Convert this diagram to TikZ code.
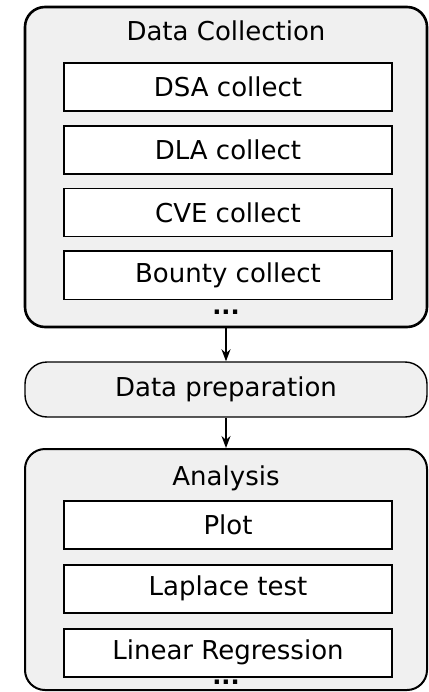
\documentclass[tikz,border=0pt]{standalone}
\usepackage{fontspec}
\setmainfont{DejaVu Sans}
\usetikzlibrary{arrows.meta, positioning}
\definecolor{panel}{RGB}{240, 240, 240}

\begin{document}
\begin{tikzpicture}[
      x=1pt, y=1pt,
      every node/.style={font=\fontsize{26}{30}\selectfont},
      group/.style={rectangle, draw=black, line width=2.6pt, fill=panel,
                    rounded corners=20pt, minimum width=402pt, inner sep=0pt},
      task/.style={rectangle, draw=black, line width=1.8pt, fill=white,
                   minimum width=328pt, minimum height=48pt, inner sep=0pt},
      more/.style={inner sep=0pt, font=\fontsize{24}{24}\selectfont\bfseries},
      arrow/.style={-{Stealth[length=12pt, width=9pt]}, line width=1.6pt}
    ]
    \useasboundingbox (0,0) rectangle (428,-692);

    % data collection
    \node[group, minimum height=320pt] (coll) at (226,-167) {};
    \node (colltitle) at (226,-31) {Data Collection};
    \node[task] (dsa) at (228,-87) {DSA collect};
    \node[task, below=13pt of dsa] (dla) {DLA collect};
    \node[task, below=13pt of dla] (cve) {CVE collect};
    \node[task, below=13pt of cve] (bounty) {Bounty collect};
    \node[more] (colldots) at (226,-312) {...};

    % preparation
    \node[group, line width=1.4pt, rounded corners=22pt, minimum height=55pt]
          (prep) at (226,-389.5) {Data preparation};

    % analysis
    \node[group, line width=2pt, minimum height=241pt] (anal) at (226,-569.5) {};
    \node (analtitle) at (226,-478) {Analysis};
    \node[task] (plot) at (228,-525) {Plot};
    \node[task, below=14pt of plot] (laplace) {Laplace test};
    \node[task, below=14pt of laplace] (linreg) {Linear Regression};
    \node[more] (analdots) at (226,-682) {...};

    \draw[arrow] (coll) -- (prep);
    \draw[arrow] (prep) -- (anal);
  \end{tikzpicture}
\end{document}
